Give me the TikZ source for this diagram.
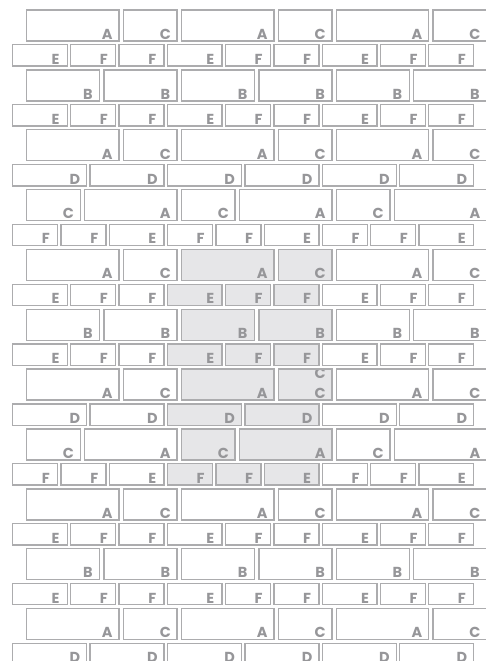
\documentclass[tikz,border=0pt]{standalone}
\usepackage{fontspec}
\setmainfont{Poppins}
\IfFontExistsTF{Poppins Bold}
  {\newfontfamily\lblfont{Poppins Bold}}
  {\newfontfamily\lblfont{Poppins}[FakeBold=3]}
\usepackage{tikz}
\definecolor{mortar}{RGB}{172,172,174}
\definecolor{inkgray}{RGB}{150,150,153}
\definecolor{wallshade}{RGB}{230,230,232}

% brick courses: label/offset/width, one period of 154.8
\def\crsAC{A/0/96.8, C/96.8/58}
\def\crsCA{C/0/58, A/58/96.8}
\def\crsB{B/0/77.4, B/77.4/77.4}
\def\crsD{D/0/77.4, D/77.4/77.4}
\def\crsEFF{E/0/58, F/58/48.4, F/106.4/48.4}
\def\crsFFE{F/0/48.4, F/48.4/48.4, E/96.8/58}

% #1 course no., #2 top, #3 height, #4 left edge, #5 pattern
\newcommand\course[5]{%
  \edef\pat{#5}%
  \foreach \per in {0,1,2}{%
    \foreach \lab/\off/\bw [count=\bi] in \pat{%
      \pgfmathsetmacro\xs{#4+\per*154.8+\off}
      \pgfmathsetmacro\xe{\xs+\bw-(#3>30 ? 3 : 2)}
      \pgfmathtruncatemacro\shd{(#1>=8)*(#1<=15)*(\xs>=165)*(\xe<=337)}
      \ifnum\shd=1 \def\bfill{wallshade}\else\def\bfill{white}\fi
      \draw[brick, fill=\bfill] (\xs+0.7,#2+0.7) rectangle (\xe-0.7,#2+#3-0.7);
      \node[lbl] (n#1-\per-\bi) at (\xe-12.5,#2+#3-2.4) {\lab};
    }}}

\begin{document}
\begin{tikzpicture}[
  x=1pt, y=-1pt,
  brick/.style={draw=mortar, line width=1.4pt},
  lbl/.style={anchor=base, inner sep=0pt, text=inkgray,
              font=\lblfont\fontsize{14.5}{14.5}\selectfont}
]
\useasboundingbox (0,0) rectangle (486,661);
\clip (0,0) rectangle (486,661);
% ── wall: tall course + short course per step ─────────────
\foreach \tall/\short [count=\k from 0] in {\crsAC/\crsEFF, \crsB/\crsEFF,
    \crsAC/\crsD, \crsCA/\crsFFE, \crsAC/\crsEFF, \crsB/\crsEFF,
    \crsAC/\crsD, \crsCA/\crsFFE, \crsAC/\crsEFF, \crsB/\crsEFF, \crsAC/\crsD}{
  \pgfmathsetmacro\yt{9.3+59.85*\k}
  \pgfmathsetmacro\ys{44.1+59.85*\k}
  \pgfmathtruncatemacro\ct{2*\k}
  \pgfmathtruncatemacro\cs{2*\k+1}
  \course{\ct}{\yt}{32.4}{26}{\tall}
  \course{\cs}{\ys}{22.7}{12}{\short}
}
% ── stray C, cut off by the top of its brick ─────────────
\begin{scope}
  \clip (278.3,370.7) rectangle (331.9,400);
  \node[lbl] (strayC) at (320.1,378.6) {C};
\end{scope}
\end{tikzpicture}
\end{document}
